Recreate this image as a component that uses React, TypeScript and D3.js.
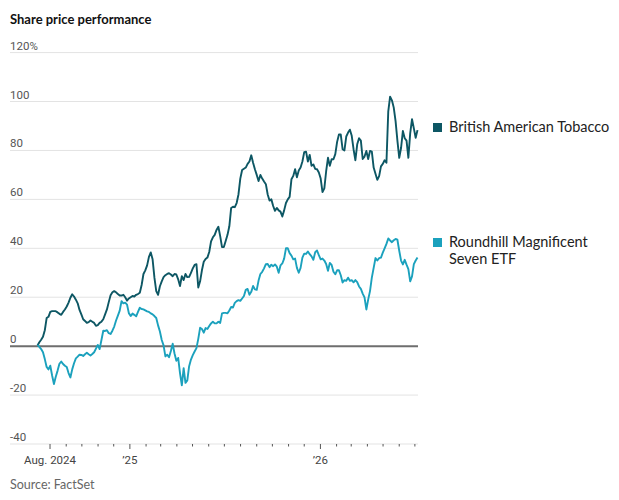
import React, { useMemo } from "react";
import * as d3 from "d3";

const width = 619;
const height = 500;

const batColor = "#0d5764";
const etfColor = "#1ba1bd";

// first reading and spacing of the readings (every 3.5 days)
const startDate = "2024-07-08";
const stepHours = 84;

const seriesNames = ["British American Tobacco", "Roundhill Magnificent Seven ETF"];

const batValues = [
  0.3, 1.6, 2.6, 3.8, 6.5, 11.5, 12, 14, 14.3, 14.3,
  14.3, 13.8, 13.2, 12.8, 14, 15, 16.2, 17.8, 19.8, 21.2,
  20.3, 19, 17.5, 14.8, 13, 11, 10.3, 9.5, 9.8, 10.5,
  10, 9.5, 8.3, 8.6, 9.5, 10, 11, 13, 15, 18,
  20.8, 22, 22.5, 22, 21.3, 20.7, 20.7, 21, 20, 18.6,
  19.5, 20, 20.5, 20.3, 21, 21.3, 21.8, 25, 29.5, 31,
  33, 36.5, 38.3, 35.5, 28, 22.5, 21, 24.5, 26.5, 28.2,
  29, 29.5, 29.8, 29.3, 28.6, 29.5, 29.3, 27.3, 24.6, 28.6,
  27, 29.5, 28.2, 28.3, 30, 31.8, 33.2, 33.5, 24, 26.5,
  31, 34.5, 35.6, 36.2, 38.5, 42.8, 44.5, 45.5, 47.5, 48.8,
  45, 40.5, 40.5, 43, 45.5, 49, 56.5, 57, 56.8, 58.5,
  62, 68.5, 72, 72.5, 73, 74.5, 75.5, 78, 75, 72.3,
  70, 67.5, 70, 68.5, 67.3, 66.2, 62, 59.5, 60, 57.3,
  55.3, 56.5, 55.5, 55, 53, 55.5, 58.5, 60, 61, 68.2,
  69.6, 72.3, 69, 71.8, 73, 75.5, 79.3, 79.5, 75.5, 78.2,
  73.7, 74.3, 72.5, 72.3, 71, 68.5, 63, 64.5, 71.5, 77,
  73.7, 76.4, 76.4, 78.5, 83.5, 86.5, 86.5, 80.5, 80, 85.7,
  87.3, 88.5, 86, 80.5, 76, 82.5, 85, 84, 76.5, 77.5,
  79.8, 76.5, 79.8, 79.5, 73, 70.5, 68, 69.5, 73.5, 74.5,
  76, 75, 96, 102, 100.5, 97.5, 92, 84, 77, 81,
  88, 85, 84, 77, 87, 92.8, 89, 85.2, 88.3,
];

const etfValues = [
  0.5, -0.3, -1.2, -2.5, -5.3, -8.5, -9.5, -8, -12, -15.5,
  -12.5, -10, -7.2, -6.3, -7.3, -8, -8.5, -11, -12.8, -9.5,
  -7, -5, -4.3, -3.5, -3.6, -4, -3.3, -2.7, -3.3, -3.8,
  -3.2, -2.5, -1, 0.5, -1.2, 2.5, 6.3, 6.2, 6.5, 5.3,
  5, 6.3, 8, 10.5, 12.5, 14.5, 18.4, 17.5, 17.8, 17,
  13.5, 12.3, 13.3, 12.8, 12.2, 14, 15.7, 15.2, 15, 14.6,
  14.2, 14, 13.4, 13, 12.3, 11.5, 8.5, 6, 2.5, 0.3,
  -4.2, -3.5, -4.5, -2, 1, -3, -6, -4.8, -11, -16,
  -9, -15, -14, -8.2, -5.5, -3.7, -2.2, -0.8, 3, 7.5,
  7, 5.5, 7.4, 7, 8.2, 9.3, 10, 9.3, 9.3, 10,
  9.5, 13.4, 13.6, 13.6, 13.4, 14.6, 16, 15.8, 17.7, 18.4,
  18.8, 18.5, 19.5, 20.5, 23, 23.4, 21, 22.2, 24.6, 23.2,
  23, 26.8, 29.5, 30.4, 31.8, 33.5, 33.6, 32.3, 33.3, 32.7,
  33.4, 32.5, 30, 33, 33.8, 35.8, 40, 40, 38, 37,
  35.5, 35.8, 32, 30, 32, 36.2, 37.8, 37.7, 38.7, 37.6,
  36.7, 35.3, 38.4, 39.1, 37.2, 35.5, 35.8, 35, 33.6, 30.8,
  34, 33.2, 30.4, 29.4, 31, 31, 29, 26, 27, 26.7,
  28, 26.7, 27, 26.1, 27, 26.2, 24.4, 23.4, 21.5, 19.9,
  15, 19, 22.5, 28, 32, 36, 35, 36, 36.2, 38.2,
  40, 41.8, 44, 43.2, 42.5, 43.3, 43.8, 43.5, 39, 35,
  33.4, 35.3, 33.3, 31.5, 26.5, 28.5, 33.5, 35, 36.2,
];

const yTicks = [-40, -20, 0, 20, 40, 60, 80, 100, 120];
const xLabelDates = ["2024-08-01", "2025-01-01", "2026-01-01"];
const xLabels = ["Aug. 2024", "\u201925", "\u201926"];
const tickStart = "2024-08-01";
const tickEnd = "2026-07-02";

const parse = d3.timeParse("%Y-%m-%d");
const tickFont = "Roboto, sans-serif";
const textFont = "Lato, Roboto, sans-serif";

export default function App() {
  const start = parse(startDate) as Date;
  const dates = batValues.map((_, i) => d3.timeHour.offset(start, i * stepHours));

  const x = useMemo(
    () => d3.scaleTime().domain([dates[0], dates[dates.length - 1]]).range([37.5, 417.5]),
    []
  );
  const y = useMemo(() => d3.scaleLinear().domain([-40, 120]).range([444, 52.6]), []);

  const line = d3
    .line<number>()
    .x((_, i) => x(dates[i]))
    .y((d) => y(d));

  const monthTicks = d3.timeMonth.range(parse(tickStart) as Date, parse(tickEnd) as Date);
  const majorTicks = xLabelDates.map((d) => (parse(d) as Date).getTime());

  const gridLeft = 10;
  const gridRight = 418;

  return (
    <svg
      width={width}
      height={height}
      style={{ position: "absolute", top: 0, left: 0, background: "#fff" }}
    >
      <text x={10} y={23.5} fontFamily={textFont} fontWeight={700} fontSize={13} fill="#111">
        Share price performance
      </text>

      {/* grid */}
      <g>
        {yTicks.map((t) => (
          <React.Fragment key={t}>
            <line
              x1={gridLeft}
              x2={gridRight}
              y1={y(t)}
              y2={y(t)}
              stroke={t === 0 ? "#6e6e6e" : "#e3e3e3"}
              strokeWidth={t === 0 ? 2 : 1}
            />
            <text x={gridLeft} y={y(t) - 3} fontFamily={tickFont} fontSize={11.5} fill="#555">
              {t === 120 ? "120%" : t}
            </text>
          </React.Fragment>
        ))}
      </g>

      {/* x axis */}
      <g>
        {monthTicks.map((d, i) => {
          const major = majorTicks.includes(d.getTime());
          return (
            <line
              key={i}
              x1={x(d)}
              x2={x(d)}
              y1={y(-40)}
              y2={y(-40) + (major ? 5 : 2.5)}
              stroke="#555"
              strokeWidth={1}
            />
          );
        })}
        {xLabelDates.map((d, i) => (
          <text
            key={d}
            x={x(parse(d) as Date)}
            y={464}
            textAnchor="middle"
            fontFamily={tickFont}
            fontSize={11.5}
            fill="#444"
          >
            {xLabels[i]}
          </text>
        ))}
      </g>

      <path d={line(batValues) || ""} fill="none" stroke={batColor} strokeWidth={1.9} strokeLinejoin="round" />
      <path d={line(etfValues) || ""} fill="none" stroke={etfColor} strokeWidth={1.9} strokeLinejoin="round" />

      {/* legend */}
      <g fontFamily={textFont} fontSize={14.5} fill="#222">
        <rect x={433} y={123} width={9} height={9} fill={batColor} />
        <text x={449} y={131.5}>{seriesNames[0]}</text>
        <rect x={433} y={238} width={9} height={9} fill={etfColor} />
        <text x={449} y={246.5}>Roundhill Magnificent</text>
        <text x={449} y={264}>Seven ETF</text>
      </g>

      <text x={10} y={489} fontFamily={textFont} fontSize={12.5} fill="#666">
        Source: FactSet
      </text>
    </svg>
  );
}
